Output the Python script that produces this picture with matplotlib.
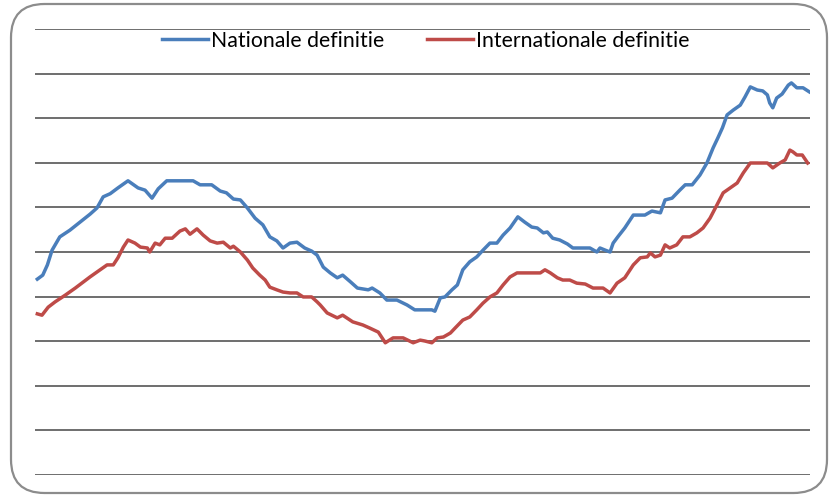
import matplotlib.pyplot as plt
from matplotlib.patches import FancyBboxPatch

# Werkloosheid: nationale vs internationale definitie (geen aslabels in origineel)

nat_x = [0.3, 1.0, 1.6, 2.2, 3.2, 4.5, 5.8, 7.1, 8.0, 8.8, 9.7, 10.7, 12.0, 13.3, 14.2,
         15.1, 15.9, 17.0, 20.4, 21.3, 22.8, 23.9, 24.7, 25.6, 26.5, 27.4, 28.4, 29.4,
         30.3, 31.2, 32.0, 32.9, 33.8, 34.8, 35.7, 36.4, 37.2, 38.1, 39.0, 39.7, 40.7,
         41.6, 42.3, 43.0, 43.5, 44.5, 45.4, 46.7, 48.0, 49.0, 49.7, 51.2, 51.6, 52.3,
         52.9, 53.8, 54.5, 55.2, 56.1, 57.0, 57.8, 58.7, 59.6, 60.4, 61.3, 62.3, 63.2,
         64.1, 64.8, 65.6, 66.1, 66.8, 67.7, 68.7, 69.4, 71.6, 72.5, 72.9, 73.6, 74.2,
         74.6, 75.2, 76.1, 77.2, 78.7, 79.6, 80.7, 81.3, 82.2, 83.2, 83.9, 84.8, 85.8,
         86.7, 87.5, 88.1, 88.7, 89.3, 90.1, 91.0, 91.6, 92.3, 93.2, 93.9, 94.5, 94.8,
         95.2, 95.7, 96.4, 97.2, 97.6, 98.3, 99.1, 99.9]
nat_y = [4.39, 4.48, 4.71, 5.04, 5.34, 5.49, 5.67, 5.85, 5.99, 6.24, 6.31, 6.44, 6.60,
         6.44, 6.39, 6.21, 6.42, 6.60, 6.60, 6.51, 6.51, 6.37, 6.33, 6.19, 6.17, 5.99,
         5.76, 5.61, 5.34, 5.25, 5.09, 5.20, 5.22, 5.09, 5.02, 4.93, 4.66, 4.53, 4.42,
         4.48, 4.33, 4.19, 4.17, 4.15, 4.19, 4.08, 3.92, 3.92, 3.81, 3.70, 3.70, 3.70,
         3.67, 3.97, 3.99, 4.15, 4.26, 4.60, 4.78, 4.89, 5.04, 5.20, 5.20, 5.38, 5.54,
         5.79, 5.67, 5.56, 5.54, 5.43, 5.45, 5.31, 5.27, 5.18, 5.09, 5.09, 5.00, 5.09,
         5.04, 5.00, 5.20, 5.34, 5.54, 5.83, 5.83, 5.92, 5.88, 6.17, 6.21, 6.39, 6.51,
         6.51, 6.73, 7.00, 7.34, 7.56, 7.79, 8.08, 8.19, 8.30, 8.48, 8.71, 8.64, 8.62,
         8.53, 8.35, 8.24, 8.46, 8.55, 8.75, 8.80, 8.69, 8.69, 8.60]

int_x = [0.3, 0.9, 1.7, 2.6, 3.9, 5.2, 7.1, 8.4, 9.3, 10.1, 10.7, 11.4, 12.0, 12.9, 13.6,
         14.5, 14.8, 15.5, 16.1, 16.8, 17.7, 18.7, 19.4, 20.0, 20.9, 21.7, 22.6, 23.5,
         24.3, 25.2, 25.6, 26.5, 27.4, 28.1, 29.0, 29.7, 30.3, 31.2, 32.0, 32.9, 33.8,
         34.6, 35.7, 36.4, 36.8, 37.7, 39.0, 39.7, 41.0, 42.3, 43.2, 44.3, 45.2, 46.2,
         47.5, 48.8, 49.7, 50.3, 51.2, 51.9, 52.7, 53.6, 54.2, 55.2, 56.1, 57.0, 57.8,
         58.7, 59.6, 60.4, 61.3, 62.2, 65.2, 65.8, 66.5, 67.4, 68.1, 69.0, 69.9, 71.0,
         72.0, 73.3, 74.2, 75.1, 76.1, 77.2, 78.1, 79.0, 79.4, 80.0, 80.7, 81.3, 81.9,
         82.8, 83.6, 84.5, 85.4, 86.2, 87.1, 88.0, 88.8, 89.7, 90.6, 91.4, 92.3, 94.5,
         95.2, 96.1, 96.8, 97.4, 97.8, 98.3, 99.0, 99.7]
int_y = [3.61, 3.58, 3.76, 3.88, 4.03, 4.19, 4.44, 4.60, 4.71, 4.71, 4.87, 5.11, 5.27,
         5.20, 5.11, 5.09, 5.00, 5.20, 5.16, 5.31, 5.31, 5.47, 5.52, 5.40, 5.52, 5.38,
         5.25, 5.20, 5.22, 5.09, 5.13, 5.00, 4.82, 4.64, 4.48, 4.37, 4.21, 4.15, 4.10,
         4.08, 4.08, 3.99, 3.99, 3.88, 3.81, 3.63, 3.52, 3.58, 3.43, 3.36, 3.29, 3.20,
         2.96, 3.07, 3.07, 2.96, 3.02, 3.00, 2.96, 3.07, 3.09, 3.18, 3.29, 3.47, 3.54,
         3.70, 3.85, 3.99, 4.08, 4.26, 4.44, 4.53, 4.53, 4.60, 4.53, 4.42, 4.37, 4.37,
         4.30, 4.28, 4.19, 4.19, 4.08, 4.30, 4.42, 4.71, 4.87, 4.89, 4.98, 4.89, 4.93,
         5.16, 5.09, 5.16, 5.34, 5.34, 5.43, 5.54, 5.76, 6.06, 6.33, 6.44, 6.55, 6.78,
         7.00, 7.00, 6.89, 7.00, 7.07, 7.29, 7.25, 7.18, 7.18, 7.00]

labels = ["Nationale definitie", "Internationale definitie"]
blue = "#4a7ebb"
red = "#be4b48"

plt.rcParams["font.family"] = ["Lato", "DejaVu Sans"]

fig = plt.figure(figsize=(8.38, 4.98), dpi=100)

# afgeronde kader rond de grafiek
frame = FancyBboxPatch((11 / 838, 5 / 498), 816 / 838, 489 / 498,
                       boxstyle="round,pad=0,rounding_size=0.04",
                       transform=fig.transFigure, facecolor="white",
                       edgecolor="#8c8c8c", linewidth=1.6, mutation_aspect=838 / 498,
                       zorder=-5)
fig.patches.append(frame)

ax = fig.add_axes([35 / 838, 23.5 / 498, 775 / 838, 445 / 498])
ax.set_facecolor("none")
ax.set_zorder(2)

for g in range(11):
    ax.axhline(g, color="#555555", linewidth=1.2, zorder=1)

ax.plot(nat_x, nat_y, color=blue, linewidth=2.5, label=labels[0], zorder=3)
ax.plot(int_x, int_y, color=red, linewidth=2.5, label=labels[1], zorder=3)

ax.set_xlim(0, 100)
ax.set_ylim(0, 10)
ax.set_xticks([])
ax.set_yticks([])
for s in ax.spines.values():
    s.set_visible(False)

ax.legend(loc="center", bbox_to_anchor=(0.504, 0.975), ncol=2, frameon=False,
          fontsize=15.3, handlelength=2.2, handletextpad=0.12, columnspacing=2.0,
          borderaxespad=0)

fig.savefig("out.png", dpi=100)
